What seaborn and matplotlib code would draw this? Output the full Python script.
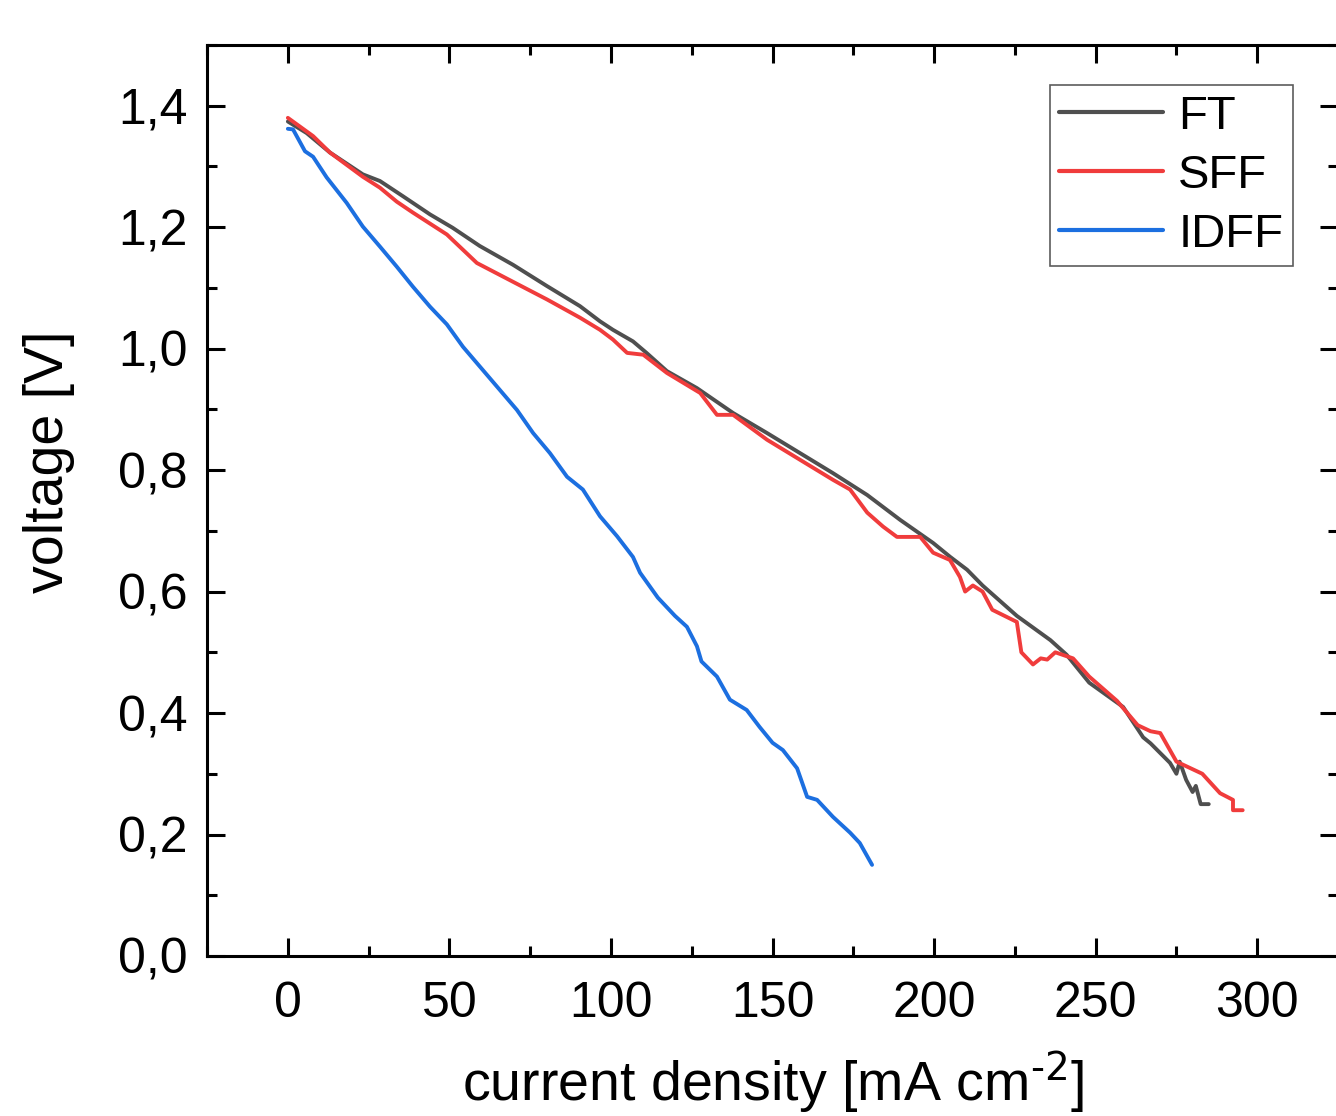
import matplotlib
matplotlib.use('Agg')
import matplotlib.pyplot as plt
import numpy as np
import pandas as pd
import seaborn as sns
from matplotlib.ticker import MultipleLocator

# values (current density in mA cm-2, voltage in V)
ft_x = [0, 5.8, 13, 23.2, 28.5, 35.6, 44, 51, 59.4, 69.7, 80.2, 90.4, 96.6, 100.6,
        106.8, 111, 117.3, 126.6, 137.8, 148.3, 158.5, 168.7, 179.3, 189.5, 199.7,
        205, 210.2, 215, 225.6, 236, 241, 248, 258.5, 264.7, 267, 273, 275, 276,
        278, 280, 281, 282.5, 285]
ft_y = [1.374, 1.355, 1.323, 1.287, 1.276, 1.251, 1.221, 1.199, 1.169, 1.138, 1.103,
        1.07, 1.045, 1.031, 1.012, 0.993, 0.963, 0.935, 0.894, 0.861, 0.828, 0.795,
        0.759, 0.718, 0.68, 0.657, 0.636, 0.61, 0.56, 0.52, 0.496, 0.45, 0.41, 0.36,
        0.35, 0.318, 0.30, 0.32, 0.29, 0.27, 0.28, 0.25, 0.25]

sff_x = [0, 7.8, 13, 23.2, 28.5, 33.7, 38.7, 49.2, 58.5, 69.7, 80.2, 90.4, 96.6,
         100.6, 105, 110, 117.3, 127.6, 132.8, 137.8, 148.3, 158.5, 168.7, 174,
         179.3, 184.2, 188.5, 195.7, 199.7, 204.9, 208, 209.6, 212, 215, 218, 225.6,
         227, 230.6, 233, 235, 237.5, 243, 248, 256.6, 263, 267, 270, 275, 279, 283,
         288.5, 292.5, 292.5, 295.5]
sff_y = [1.38, 1.35, 1.323, 1.283, 1.265, 1.242, 1.224, 1.188, 1.141, 1.11, 1.081,
         1.051, 1.031, 1.015, 0.993, 0.99, 0.96, 0.927, 0.891, 0.891, 0.85, 0.817,
         0.784, 0.768, 0.73, 0.707, 0.69, 0.69, 0.664, 0.652, 0.624, 0.60, 0.61,
         0.60, 0.57, 0.55, 0.50, 0.48, 0.49, 0.488, 0.50, 0.49, 0.46, 0.42, 0.38,
         0.37, 0.367, 0.32, 0.31, 0.30, 0.268, 0.257, 0.24, 0.24]

idff_x = [0, 1.6, 5.3, 7.8, 12, 18.2, 23.2, 28.5, 33.7, 38.7, 44, 49.2, 54.2, 65.6,
          70.9, 75.9, 81.1, 86.4, 91.3, 96.6, 101.9, 106.8, 109, 114.5, 119.8, 123.5,
          126.6, 128, 132.8, 136.8, 142, 146, 150, 153.2, 157.6, 160.7, 163.8, 168.7,
          174, 177, 180.8]
idff_y = [1.362, 1.361, 1.325, 1.316, 1.282, 1.24, 1.201, 1.168, 1.135, 1.102, 1.069,
          1.04, 1.003, 0.932, 0.899, 0.861, 0.828, 0.789, 0.768, 0.724, 0.691, 0.657,
          0.631, 0.59, 0.56, 0.542, 0.51, 0.485, 0.46, 0.422, 0.405, 0.377, 0.351,
          0.339, 0.309, 0.262, 0.257, 0.229, 0.203, 0.186, 0.15]

series = ['FT', 'SFF', 'IDFF']
colors = ['#4f4f4f', '#f03c3c', '#1c6fe0']

x_ticks = [0, 50, 100, 150, 200, 250, 300]
y_ticks = [0.0, 0.2, 0.4, 0.6, 0.8, 1.0, 1.2, 1.4]
y_tick_labels = ['0,0', '0,2', '0,4', '0,6', '0,8', '1,0', '1,2', '1,4']

df = pd.concat([
    pd.DataFrame({'j': ft_x, 'U': ft_y, 'sample': 'FT'}),
    pd.DataFrame({'j': sff_x, 'U': sff_y, 'sample': 'SFF'}),
    pd.DataFrame({'j': idff_x, 'U': idff_y, 'sample': 'IDFF'}),
], ignore_index=True)

sns.set_style('ticks')
plt.rcParams['font.family'] = ['Liberation Sans', 'DejaVu Sans']
plt.rcParams['mathtext.default'] = 'regular'
plt.rcParams['text.color'] = 'black'
plt.rcParams['axes.labelcolor'] = 'black'
plt.rcParams['xtick.color'] = 'black'
plt.rcParams['ytick.color'] = 'black'

fig = plt.figure(figsize=(13.36, 11.16), dpi=100)
ax = fig.add_axes([0.155, 0.1434, 0.8465, 0.8163])

sns.lineplot(data=df, x='j', y='U', hue='sample', hue_order=series,
             palette=colors, sort=False, estimator=None, linewidth=2.8, ax=ax)

ax.set_xlim(-25, 325)
ax.set_ylim(0, 1.5)
ax.set_xticks(x_ticks)
ax.set_xticklabels([str(t) for t in x_ticks])
ax.set_yticks(y_ticks)
ax.set_yticklabels(y_tick_labels)
ax.xaxis.set_minor_locator(MultipleLocator(25))
ax.yaxis.set_minor_locator(MultipleLocator(0.1))

for s in ax.spines.values():
    s.set_visible(True)
    s.set_linewidth(2.2)
    s.set_color('black')

ax.tick_params(which='both', direction='in', top=True, right=True, width=2.2, color='black')
ax.tick_params(which='major', length=13)
ax.tick_params(which='minor', length=7)
ax.tick_params(axis='x', which='major', labelsize=36, pad=18)
ax.tick_params(axis='y', which='major', labelsize=36, pad=14)

ax.set_xlabel(r'current density [mA cm$^{\text{-2}}$]', fontsize=40, labelpad=16)
ax.set_ylabel('voltage [V]', fontsize=40)
ax.yaxis.set_label_coords(-0.117, 0.543)

leg = ax.legend(loc='upper right', bbox_to_anchor=(0.96, 0.956), fontsize=34,
                frameon=True, fancybox=False, handlelength=2.2, handletextpad=0.32,
                borderpad=0.2, labelspacing=0.32, borderaxespad=0)
leg.get_frame().set_edgecolor('#333333')
leg.get_frame().set_linewidth(1.2)
for line in leg.get_lines():
    line.set_linewidth(3.0)

fig.savefig('out.png', dpi=100)
